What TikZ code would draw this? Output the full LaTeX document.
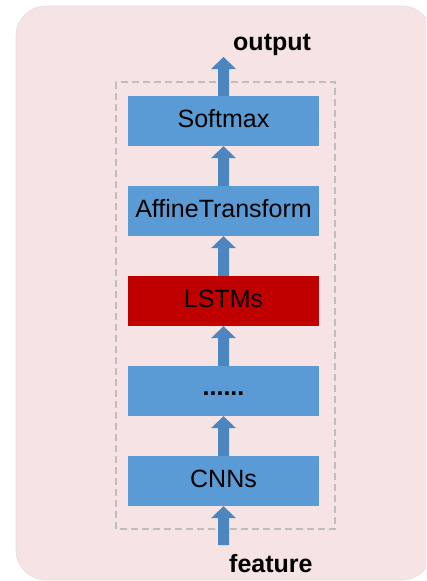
\documentclass[tikz,border=0pt]{standalone}
\usepackage{fontspec}
\setmainfont{Liberation Sans}
\usetikzlibrary{calc}

\definecolor{panelpink}{RGB}{245,228,227}
\definecolor{layerblue}{RGB}{91,155,213}
\definecolor{layerred}{RGB}{192,0,0}
\definecolor{flowblue}{RGB}{76,134,192}
\definecolor{framegray}{RGB}{190,190,190}

% thick block arrow from the point #1 up to the point #2
\newcommand{\blockarrow}[2]{%
  \fill[flowblue] let \p1=(#1), \p2=(#2) in
    (\x1-5.5pt,\y1) -- (\x1-5.5pt,\y2-12pt) -- (\x1-12.5pt,\y2-12pt) --
    (\x1,\y2) -- (\x1+12.5pt,\y2-12pt) -- (\x1+5.5pt,\y2-12pt) --
    (\x1+5.5pt,\y1) -- cycle;}

\tikzset{
  layer/.style={minimum width=191pt, minimum height=50pt, inner sep=0pt,
    fill=layerblue, font=\fontsize{25}{30}\selectfont,
    text height=18pt, text depth=5pt},
  iolabel/.style={font=\fontsize{25}{30}\selectfont\bfseries, inner sep=0pt,
    anchor=base west},
}

\begin{document}
\begin{tikzpicture}[x=1pt,y=-1pt]
  \useasboundingbox (0,0) rectangle (426,581);
  \clip (0,0) rectangle (426,581);

  % rounded panel behind the network
  \fill[panelpink, draw=black!12, line width=0.6pt, rounded corners=30pt]
    (16,6) rectangle (432,580);

  % dashed frame around the stack of layers
  \draw[framegray, line width=1.5pt, dash pattern=on 7pt off 4pt]
    (116,82) rectangle (335,529);

  % layers, bottom to top
  \node[layer] (cnn)     at (223.5,481) {CNNs};
  \node[layer] (mid)     at (223.5,391) {\raisebox{2pt}{\bfseries ......}};
  \node[layer, fill=layerred] (lstm) at (223.5,301) {LSTMs};
  \node[layer] (affine)  at (223.5,211) {AffineTransform};
  \node[layer] (softmax) at (223.5,121) {Softmax};

  % input and output ends
  \coordinate (featin) at (223.5,545);
  \coordinate (outtip) at (223.5,57);

  \blockarrow{featin}{cnn.south}
  \blockarrow{cnn.north}{mid.south}
  \blockarrow{mid.north}{lstm.south}
  \blockarrow{lstm.north}{affine.south}
  \blockarrow{affine.north}{softmax.south}
  \blockarrow{softmax.north}{outtip}

  \node[iolabel] (outlabel)  at (233,50)  {output};
  \node[iolabel] (featlabel) at (229,572) {feature};
\end{tikzpicture}
\end{document}
